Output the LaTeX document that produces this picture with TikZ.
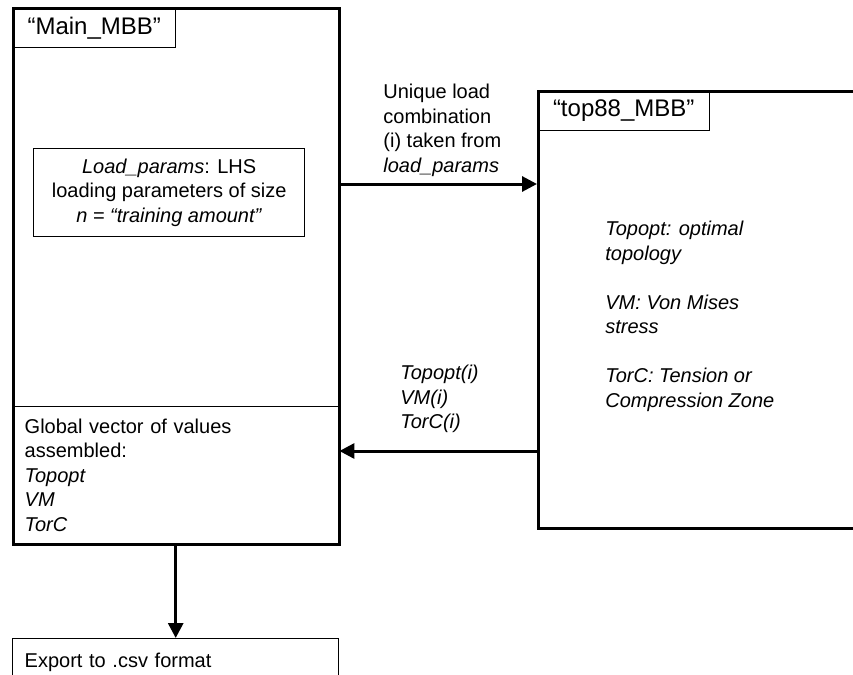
\documentclass[tikz,border=0pt]{standalone}
\usepackage{fontspec}
\setmainfont{Liberation Sans}
\usetikzlibrary{arrows.meta}

\begin{document}
\begin{tikzpicture}[x=0.5pt, y=-0.5pt,
    every node/.style={font=\fontsize{10}{12.25}\selectfont},
    thinbox/.style={draw, line width=0.7pt, anchor=north west},
    thickbox/.style={draw, line width=1.5pt, anchor=north west},
    title/.style={thinbox, font=\fontsize{12}{14}\selectfont, minimum height=20pt},
    txt/.style={anchor=north west, inner sep=0pt, align=left},
    arr/.style={line width=1.5pt, -{Triangle[length=7.5pt, width=7.5pt]}}]
  \useasboundingbox (0,0) rectangle (853,675);
  \clip (0,0) rectangle (853,675);
  % left block
  \node[thinbox, minimum width=163pt, minimum height=68.5pt, text width=151pt, inner xsep=6pt]
    (global) at (12,406) {Global vector of values\\ assembled:\\ \textit{Topopt}\\ \textit{VM}\\ \textit{TorC}};
  \node[thickbox, minimum width=163pt, minimum height=268pt] (main) at (12,7) {};
  \node[title, minimum width=81.5pt] (mainlbl) at (12,7) {``Main\_MBB''};
  \node[thinbox, minimum width=135.5pt, minimum height=44pt, align=center, inner sep=0pt]
    (load) at (33,148) {\textit{Load\_params}: LHS\\ loading parameters of size\\ \textit{n = ``training amount''}};
  % right block
  \node[thickbox, minimum width=166.5pt, minimum height=218.5pt] (top88) at (537,90) {};
  \node[title, minimum width=86pt] (toplbl) at (537,90) {``top88\_MBB''};
  \node[txt, font=\fontsize{10}{12.25}\selectfont\itshape] (results) at (605,221)
    {Topopt: optimal\\ topology\\[12.25pt] VM: Von Mises\\ stress\\[12.25pt] TorC: Tension or\\ Compression Zone};
  % export
  \node[thinbox, text width=151pt, inner xsep=6pt, inner ysep=7pt, text depth=20pt]
    (export) at (12,638) {Export to .csv format};
  % connectors
  \draw[arr] (main.east |- 0,184) -- (top88.west |- 0,184);
  \node[txt] (sendlbl) at (383,84) {Unique load\\ combination\\ (i) taken from\\ \textit{load\_params}};
  \draw[arr] (top88.west |- 0,451) -- (global.east |- 0,451);
  \node[txt, font=\fontsize{10}{12.25}\selectfont\itshape] (backlbl) at (400,365) {Topopt(i)\\ VM(i)\\ TorC(i)};
  \draw[arr] (global.south) -- (export.north);
\end{tikzpicture}
\end{document}
